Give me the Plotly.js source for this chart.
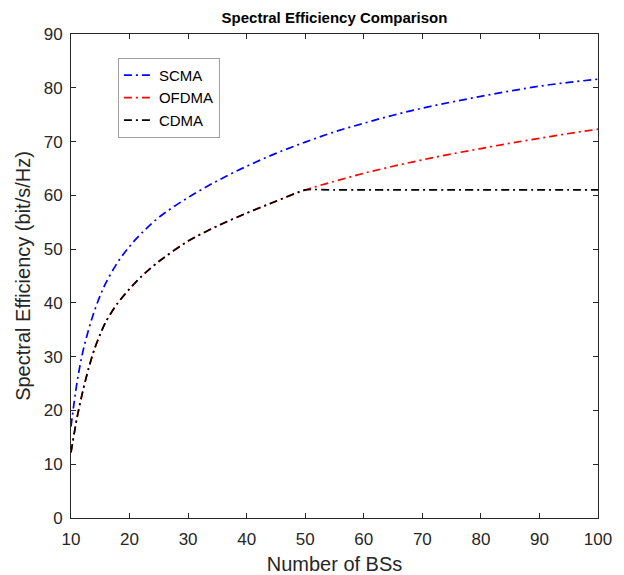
<!DOCTYPE html>
<html>
<head>
<meta charset="utf-8">
<script src="https://cdn.plot.ly/plotly-3.0.1.min.js"></script>
<style>
  html, body { margin: 0; padding: 0; background: #ffffff; }
  #chart { width: 624px; height: 575px; }
</style>
</head>
<body>
<div id="chart"></div>
<script>
// Number of BSs (x values)
const numBS = [10, 11, 12, 13, 14, 15, 16, 18, 20, 22, 25, 30, 35, 40, 45, 50, 55, 60, 65, 70, 75, 80, 85, 90, 95, 100];

// Spectral efficiency (bit/s/Hz)
const scma  = [17.0, 25.0, 30.8, 35.0, 38.5, 41.4, 43.8, 47.6, 50.5, 52.9, 55.9, 59.6, 62.7, 65.4, 67.8, 69.9, 71.8, 73.4, 74.9, 76.2, 77.35, 78.4, 79.4, 80.3, 81.0, 81.6];
const ofdma = [12.2, 18.5, 23.5, 27.8, 31.4, 34.2, 36.6, 40.0, 42.6, 44.9, 47.7, 51.5, 54.3, 56.7, 58.9, 61.0, 62.6, 64.1, 65.4, 66.6, 67.7, 68.7, 69.7, 70.6, 71.5, 72.3];
const cdma  = [12.2, 18.5, 23.5, 27.8, 31.4, 34.2, 36.6, 40.0, 42.6, 44.9, 47.7, 51.5, 54.3, 56.7, 58.9, 61.0, 61.0, 61.0, 61.0, 61.0, 61.0, 61.0, 61.0, 61.0, 61.0, 61.0];

const seriesNames = ['SCMA', 'OFDMA', 'CDMA'];
const xTicks = [10, 20, 30, 40, 50, 60, 70, 80, 90, 100];
const yTicks = [0, 10, 20, 30, 40, 50, 60, 70, 80, 90];

const FONT = 'Arial, "Liberation Sans", sans-serif';
const DASH = '8px,4px,2px,4px';

const traces = [
  { x: numBS, y: scma,  name: seriesNames[0], mode: 'lines',
    line: { color: '#0000ff', width: 1.7, dash: DASH, shape: 'spline', smoothing: 1 } },
  { x: numBS, y: ofdma, name: seriesNames[1], mode: 'lines',
    line: { color: '#ff0000', width: 1.7, dash: DASH, shape: 'spline', smoothing: 1 } },
  { x: numBS, y: cdma,  name: seriesNames[2], mode: 'lines',
    line: { color: '#000000', width: 1.7, dash: DASH, shape: 'spline', smoothing: 0.6 } }
];

const axisCommon = {
  showgrid: false,
  zeroline: false,
  showline: true,
  linecolor: '#262626',
  linewidth: 1,
  mirror: 'ticks',
  ticks: 'inside',
  ticklen: 5,
  tickwidth: 1,
  tickcolor: '#262626',
  tickfont: { family: FONT, size: 17, color: '#262626' }
};

const layout = {
  width: 624,
  height: 575,
  paper_bgcolor: '#ffffff',
  plot_bgcolor: '#ffffff',
  margin: { l: 71, r: 26, t: 34, b: 57 },
  title: {
    text: '<b>Spectral Efficiency Comparison</b>',
    font: { family: FONT, size: 15, color: '#000000' },
    xref: 'paper', x: 0.5, xanchor: 'center',
    y: 1 - 18 / 575, yanchor: 'middle'
  },
  xaxis: Object.assign({}, axisCommon, {
    range: [10, 100],
    tickvals: xTicks,
    ticktext: xTicks.map(String),
    ticklabelstandoff: 6,
    title: { text: 'Number of BSs', font: { family: FONT, size: 20, color: '#262626' }, standoff: 8 }
  }),
  yaxis: Object.assign({}, axisCommon, {
    range: [0, 90],
    tickvals: yTicks,
    ticktext: yTicks.map(String),
    ticklabelstandoff: 4,
    title: { text: 'Spectral Efficiency (bit/s/Hz)', font: { family: FONT, size: 20, color: '#262626' }, standoff: 7 }
  }),
  showlegend: true,
  legend: {
    x: 0.089, y: 0.868, xanchor: 'left', yanchor: 'middle',
    bgcolor: '#ffffff',
    bordercolor: '#a0a0a0',
    borderwidth: 1,
    font: { family: FONT, size: 15, color: '#000000' },
    tracegroupgap: 0
  }
};

Plotly.newPlot('chart', traces, layout, { displayModeBar: false, staticPlot: true });
</script>
</body>
</html>
